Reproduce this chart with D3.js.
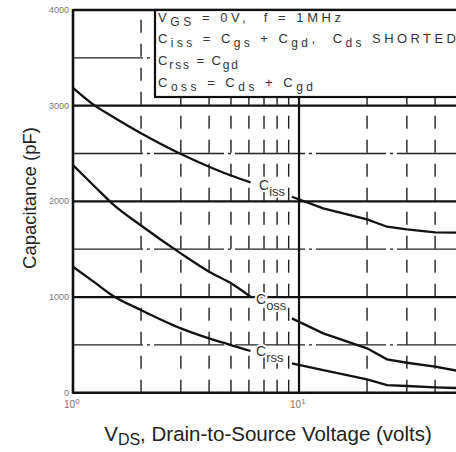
<!DOCTYPE html>
<html><head><meta charset="utf-8">
<script src="https://cdn.jsdelivr.net/npm/d3@7"></script>
<style>body{margin:0;background:#fff}svg{display:block}</style>
</head><body>
<svg id="c" width="456" height="452"></svg>
<script>
// ---- data ----
const voltsLow  = [1, 1.25, 1.5, 2, 3, 4, 5, 6.1];
const cissLow   = [3187, 3000, 2884, 2711, 2494, 2362, 2270, 2198];
const cossLow   = [2379, 2153, 1972, 1748, 1456, 1265, 1143, 1003];
const crssLow   = [1317, 1150, 1014, 864, 673, 568, 498, 436];
const voltsHigh = [9.3, 12.8, 20, 24.5, 30, 40, 50];
const cissHigh  = [2048, 1927, 1812, 1735, 1707, 1676, 1672];
const cossHigh  = [777, 620, 464, 349, 313, 272, 230];
const crssHigh  = [307, 237, 140, 80, 70, 56, 49];
const seriesNames = [["C","iss"],["C","oss"],["C","rss"]];
const yTicks = [0, 1000, 2000, 3000, 4000];
const yMinor = [500, 1500, 2500, 3500];
const xTicks = [1, 10];
const xMinor = [2,3,4,5,6,7,8,9,20,30,40];
const legendLines = [
  [["V",0],["GS",1],[" = 0V,  f = 1MHz",0]],
  [["C",0],["iss",1],[" = C",0],["gs",1],[" + C",0],["gd",1],[",  C",0],["ds",1],[" SHORTED",0]],
  [["C",0],["rss",1],[" = C",0],["gd",1]],
  [["C",0],["oss",1],[" = C",0],["ds",1],[" + C",0],["gd",1]]
];

// ---- layout ----
const svg = d3.select("#c");
const x = d3.scaleLog().domain([1, 50]).range([73, 457]);
const y = d3.scaleLinear().domain([0, 4000]).range([392.7, 10]);
const font = "'Liberation Sans', Arial, sans-serif";

// minor horizontal
svg.append("g").selectAll("line").data(yMinor).join("line")
  .attr("x1", x(1)).attr("x2", 456).attr("y1", d=>y(d)).attr("y2", d=>y(d))
  .attr("stroke", "#222").attr("stroke-width", 1.3).attr("stroke-dasharray", "70,4,3,4");
// minor vertical
svg.append("g").selectAll("line").data(xMinor).join("line")
  .attr("x1", d=>x(d)).attr("x2", d=>x(d)).attr("y1", y(0)).attr("y2", y(4000))
  .attr("stroke", "#222").attr("stroke-width", 1.4).attr("stroke-dasharray", "13,11");
// major horizontal
svg.append("g").selectAll("line").data(yTicks.filter(d=>d>0&&d<4000)).join("line")
  .attr("x1", x(1)).attr("x2", 456).attr("y1", d=>y(d)).attr("y2", d=>y(d))
  .attr("stroke", "#111").attr("stroke-width", 2.2);
// 10 line
svg.append("line").attr("x1", x(10)).attr("x2", x(10)).attr("y1", y(0)).attr("y2", y(4000))
  .attr("stroke", "#111").attr("stroke-width", 2.2);
// frame
svg.append("line").attr("x1", x(1)).attr("x2", 456).attr("y1", y(4000)).attr("y2", y(4000))
  .attr("stroke", "#111").attr("stroke-width", 2.4);
svg.append("line").attr("x1", x(1)).attr("x2", 456).attr("y1", y(0)).attr("y2", y(0))
  .attr("stroke", "#111").attr("stroke-width", 2.6);
svg.append("line").attr("x1", x(1)).attr("x2", x(1)).attr("y1", y(0)+1).attr("y2", y(4000)-1)
  .attr("stroke", "#111").attr("stroke-width", 2.6);

// legend box
const bx = 155, by = y(4000), bh = 97 - y(4000);
svg.append("rect").attr("x", bx).attr("y", by).attr("width", 320).attr("height", bh)
  .attr("fill", "#fff").attr("stroke", "#111").attr("stroke-width", 2.2);
const lineWidths = [183, 298, 80, 155];
const baselines = [22, 43, 65, 87];
legendLines.forEach((toks, i) => {
  const t = svg.append("text").attr("x", 158).attr("y", baselines[i])
    .attr("font-family", font).attr("font-size", 13).attr("fill", "#333")
    .attr("textLength", lineWidths[i]).attr("lengthAdjust", "spacing")
    .style("white-space", "pre");
  let shifted = 0;
  toks.forEach(([s, sub]) => {
    const ts = t.append("tspan").text(s);
    if (sub && !shifted) { ts.attr("dy", 4).attr("font-size", 12); shifted = 1; }
    else if (sub) { ts.attr("font-size", 12); }
    else if (!sub && shifted) { ts.attr("dy", -4); shifted = 0; }
  });
});

// curves
const lowLine = d3.line().x(d=>x(d[0])).y(d=>y(d[1])).curve(d3.curveMonotoneX);
const highLine = d3.line().x(d=>x(d[0])).y(d=>y(d[1]));
// curve labels (with white halo so grid lines break around them)
const labelPos = [[259, 190], [256, 304], [256, 356]];
seriesNames.forEach(([c, s], i) => {
  const t = svg.append("text").attr("x", labelPos[i][0]).attr("y", labelPos[i][1])
    .attr("font-family", font).attr("font-size", 14).attr("fill", "#333")
    .attr("stroke", "#fff").attr("stroke-width", 4).attr("paint-order", "stroke")
    .attr("stroke-linejoin", "round");
  t.append("tspan").text(c);
  t.append("tspan").attr("dy", 6).attr("font-size", 13).text(s);
});
[cissLow, cossLow, crssLow].forEach(arr => {
  svg.append("path").attr("d", lowLine(voltsLow.map((v,i)=>[v, arr[i]])))
    .attr("fill", "none").attr("stroke", "#111").attr("stroke-width", 2.3);
});
[cissHigh, cossHigh, crssHigh].forEach(arr => {
  svg.append("path").attr("d", highLine(voltsHigh.map((v,i)=>[v, arr[i]])))
    .attr("fill", "none").attr("stroke", "#111").attr("stroke-width", 2.3);
});

// y tick labels
svg.append("g").selectAll("text").data(yTicks).join("text")
  .attr("x", 69).attr("y", d=>y(d)+3).attr("text-anchor", "end")
  .attr("font-family", font).attr("font-size", 9).attr("fill", "#777")
  .text(d=>d);
// x tick labels
const xl = svg.append("g").selectAll("text").data(xTicks).join("text")
  .attr("x", d=>x(d)-9).attr("y", 408)
  .attr("font-family", font).attr("font-size", 10).attr("fill", "#777");
xl.append("tspan").text("10");
xl.append("tspan").attr("dy", -4).attr("font-size", 8).text(d=>Math.round(Math.log10(d)));

// axis titles
svg.append("text").attr("transform", "translate(36,198) rotate(-90)")
  .attr("text-anchor", "middle").attr("font-family", font).attr("font-size", 18.5).attr("fill", "#222")
  .text("Capacitance (pF)");
const xt = svg.append("text").attr("x", 268).attr("y", 441).attr("text-anchor", "middle")
  .attr("font-family", font).attr("font-size", 20.5).attr("fill", "#222");
xt.append("tspan").text("V");
xt.append("tspan").attr("dy", 4).attr("font-size", 16).text("DS");
xt.append("tspan").attr("dy", -4).text(", Drain-to-Source Voltage (volts)");
</script>
</body></html>
